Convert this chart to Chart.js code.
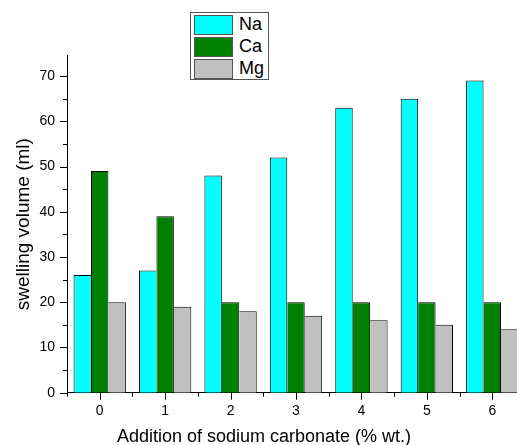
<!DOCTYPE html>
<html>
<head>
  <meta charset="utf-8">
  <title>swelling volume</title>
  <script src="https://cdn.jsdelivr.net/npm/chart.js"></script>
  <style>
    html, body {
      margin: 0;
      padding: 0;
      background: #fff;
      overflow: hidden;
      font-family: Arial, 'Liberation Sans', sans-serif;
    }
    .wrap {
      position: relative;
      width: 517px;
      height: 445px;
      overflow: hidden;
    }
    canvas { display: block; }
    .legend {
      position: absolute;
      left: 190px;
      top: 12px;
      width: 77px;
      height: 66px;
      border: 1px solid #555;
      background: #fff;
    }
    .legend .row {
      position: absolute;
      left: 3px;
      height: 19px;
    }
    .legend .sw {
      position: absolute;
      left: 0;
      top: 0;
      width: 37px;
      height: 18px;
      border: 1px solid #555;
    }
    .legend .lbl {
      position: absolute;
      left: 45px;
      top: -1px;
      font-size: 18px;
      line-height: 20px;
      color: #000;
    }
    .xtitle {
      position: absolute;
      left: 0;
      width: 528px;
      top: 426px;
      text-align: center;
      font-size: 18px;
      line-height: 20px;
      color: #000;
    }
  </style>
</head>
<body>

<div class="wrap">
  <canvas id="swellChart" width="525" height="445"></canvas>
  <div class="legend" id="legend"></div>
  <div class="xtitle">Addition of sodium carbonate (% wt.)</div>
</div>

<script>
  const categories = ['0', '1', '2', '3', '4', '5', '6'];
  const seriesNames = ['Na', 'Ca', 'Mg'];
  const naValues = [26, 27, 48, 52, 63, 65, 69];
  const caValues = [49, 39, 20, 20, 20, 20, 20];
  const mgValues = [20, 19, 18, 17, 16, 15, 14];
  const colors = ['#00ffff', '#008000', '#c0c0c0'];
  const allSeries = [naValues, caValues, mgValues];

  // neighbouring bars share one outline: the taller bar keeps the shared edge
  function barBorder(ctx) {
    const d = ctx.datasetIndex, i = ctx.dataIndex;
    const v = allSeries[d][i];
    let left = 1, right = 1;
    if (d > 0 && allSeries[d - 1][i] >= v) left = 0;
    if (d < allSeries.length - 1 && allSeries[d + 1][i] > v) right = 0;
    return { top: 1, left: left, right: right, bottom: 0 };
  }

  // origin-style outward ticks, long at majors and short at minors
  const tickMarks = {
    id: 'tickMarks',
    afterDraw(chart) {
      const ctx = chart.ctx;
      const x = chart.scales.x, y = chart.scales.y;
      const bottom = chart.chartArea.bottom, left = chart.chartArea.left;
      ctx.save();
      ctx.strokeStyle = '#000';
      ctx.lineWidth = 1;
      ctx.beginPath();
      const step = x.getPixelForValue(1) - x.getPixelForValue(0);
      for (let i = 0; i < categories.length; i++) {
        const px = Math.round(x.getPixelForValue(i)) + 0.5;
        ctx.moveTo(px, bottom); ctx.lineTo(px, bottom + 7);
      }
      for (let i = 0; i <= categories.length; i++) {
        const px = Math.round(x.getPixelForValue(i) - step / 2) + 0.5;
        ctx.moveTo(px, bottom); ctx.lineTo(px, bottom + 4);
      }
      for (let v = 0; v <= y.max; v += 5) {
        const py = Math.round(y.getPixelForValue(v)) + 0.5;
        const len = v % 10 === 0 ? 7 : 4;
        ctx.moveTo(left, py); ctx.lineTo(left - len, py);
      }
      ctx.stroke();
      ctx.restore();
    }
  };

  Chart.defaults.font.family = "Arial, 'Liberation Sans', sans-serif";
  Chart.defaults.color = '#000';

  const chart = new Chart(document.getElementById('swellChart'), {
    type: 'bar',
    data: {
      labels: categories,
      datasets: allSeries.map((vals, i) => ({
        label: seriesNames[i],
        data: vals,
        backgroundColor: colors[i],
        borderColor: '#000',
        borderWidth: barBorder,
        borderSkipped: false,
        categoryPercentage: 0.8,
        barPercentage: 1.0
      }))
    },
    options: {
      responsive: false,
      animation: false,
      layout: { padding: { top: 55.7, right: 0, bottom: 0, left: 0 } },
      plugins: {
        legend: { display: false },
        tooltip: { enabled: false }
      },
      scales: {
        x: {
          grid: { display: false, drawTicks: false },
          border: { display: true, color: '#000', width: 1 },
          ticks: { font: { size: 14 }, padding: 10, maxRotation: 0 },
          afterFit(scale) { scale.height = 52.3; }
        },
        y: {
          min: 0,
          max: 74.5,
          grid: { display: false, drawTicks: false },
          border: { display: true, color: '#000', width: 1 },
          ticks: {
            stepSize: 5,
            font: { size: 14 },
            padding: 12,
            callback: v => (v % 10 === 0 ? v : '')
          },
          title: {
            display: true,
            text: 'swelling volume (ml)',
            font: { size: 19 },
            padding: 12
          },
          afterFit(scale) { scale.width = 67; }
        }
      }
    },
    plugins: [tickMarks]
  });

  // legend box built from the datasets
  const legend = document.getElementById('legend');
  seriesNames.forEach((name, i) => {
    const row = document.createElement('div');
    row.className = 'row';
    row.style.top = (2 + i * 22) + 'px';
    row.innerHTML = '<div class="sw" style="background:' + colors[i] + '"></div><div class="lbl">' + name + '</div>';
    legend.appendChild(row);
  });
</script>

</body>
</html>
